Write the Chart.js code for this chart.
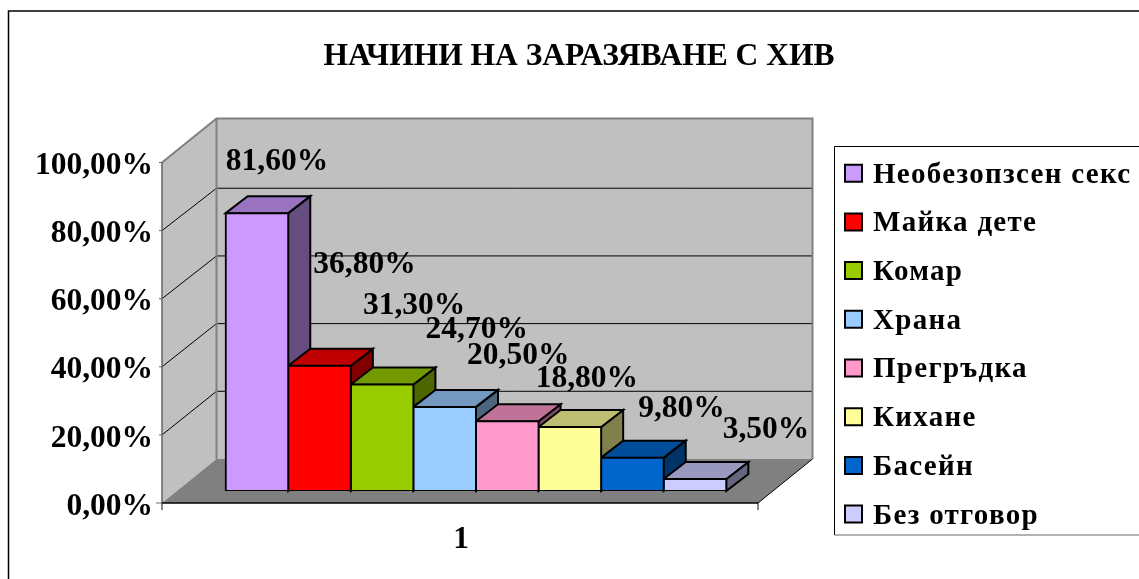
<!DOCTYPE html>
<html><head><meta charset="utf-8">
<style>html,body{margin:0;padding:0;background:#fff}canvas{display:block}</style>
<script src="https://cdn.jsdelivr.net/npm/chart.js@4/dist/chart.umd.min.js"></script>
</head><body><canvas id="c" width="1139" height="579"></canvas>
<script>
const categories = ['1'];
const seriesNames = ['Необезопзсен секс','Майка дете','Комар','Храна','Прегръдка','Кихане','Басейн','Без отговор'];
const seriesValues = [81.6,36.8,31.3,24.7,20.5,18.8,9.8,3.5];
const seriesColors = ['#CC99FF','#FF0000','#99CC00','#99CCFF','#FF99CC','#FFFF99','#0066CC','#CCCCFF'];
const topColors = ['#9A73C0','#BF0000','#739900','#7399C0','#BF7399','#BFBF73','#004D99','#9999BF'];
const sideColors = ['#664D80','#800000','#4D6600','#4D6680','#804D66','#80804D','#003366','#666680'];
const labelNudges = [[20,-51],[45,-101],[32,-79],[32,-77],[11,-65],[17,-48],[49,-49],[71,-49]];
const fmt = v => v.toFixed(2).replace('.',',') + '%';
const SERIF = '"Liberation Serif","Times New Roman",serif';
const BAR_D = [22,-17], FRONT = [-16,12], BACK = [38.5,-32];
const WALL_K = 0.994;

const walls = {
  id:'walls',
  beforeLayout(chart){
    const lg = chart.legend;
    if(!lg._wrapped){
      const f = lg.fit;
      lg.fit = function(){ this.maxHeight = 1000; f.call(this); this.width = 365; };
      const d = lg.draw;
      lg.draw = function(){
        const c=this.ctx, ft=c.fillText;
        c.letterSpacing='1.3px';
        c.fillText=function(t,x,y,m){ ft.call(c,t,x-3.5,y+2); };
        d.call(this);
        delete c.fillText;
        c.letterSpacing='0px';
      };
      lg._wrapped = true;
    }
  },
  afterLayout(chart){
    const lg = chart.legend;
    lg.left = 845 - 19.7; lg.top = 139; lg.right = 1139; lg.bottom = 900;
  },
  beforeDraw(chart){
    const {ctx, scales:{x,y}} = chart;
    ctx.save();
    ctx.fillStyle='#fff'; ctx.fillRect(0,0,1139,579);
    // outer frame
    ctx.strokeStyle='#000'; ctx.lineWidth=1.5;
    ctx.beginPath(); ctx.moveTo(8.5,579); ctx.lineTo(8.5,11); ctx.lineTo(1139,11); ctx.stroke();
    // legend frame
    ctx.lineWidth=1; ctx.strokeStyle='#000';
    ctx.beginPath(); ctx.moveTo(1139,146.5); ctx.lineTo(834.5,146.5); ctx.lineTo(834.5,535); ctx.stroke();
    ctx.strokeStyle='#666'; ctx.beginPath(); ctx.moveTo(834.5,535); ctx.lineTo(1139,535); ctx.stroke();

    const y0=y.getPixelForValue(0), y1=y.getPixelForValue(100), L=x.left, R=x.right;
    const fl=L+FRONT[0], fr=R+FRONT[0], bl=L+BACK[0], br=R+BACK[0];
    const fb=y0+FRONT[1], ft=y1+FRONT[1], bb=y0+BACK[1], bt=y1+BACK[1];
    ctx.fillStyle='#C0C0C0';
    ctx.fillRect(bl,bt,br-bl,bb-bt);
    ctx.beginPath(); ctx.moveTo(fl,ft); ctx.lineTo(bl,bt); ctx.lineTo(bl,bb); ctx.lineTo(fl,fb); ctx.closePath(); ctx.fill();
    ctx.fillStyle='#808080';
    ctx.beginPath(); ctx.moveTo(fl,fb); ctx.lineTo(bl,bb); ctx.lineTo(br,bb); ctx.lineTo(fr,fb); ctx.closePath(); ctx.fill();
    // grid
    ctx.strokeStyle='#000'; ctx.lineWidth=1;
    y.ticks.forEach(t=>{
      if(t.value===0||t.value===100) return;
      const p=y.getPixelForValue(t.value), back=bb-(y0-p)*WALL_K;
      ctx.beginPath(); ctx.moveTo(fl,p+FRONT[1]); ctx.lineTo(bl,back); ctx.lineTo(br,back); ctx.stroke();
    });
    // wall edges
    ctx.strokeStyle='#808080'; ctx.lineWidth=2;
    ctx.beginPath(); ctx.moveTo(fl,ft); ctx.lineTo(bl,bt); ctx.lineTo(br,bt); ctx.lineTo(br,bb); ctx.moveTo(bl,bt); ctx.lineTo(bl,bb); ctx.stroke();
    // axes
    ctx.strokeStyle='#000'; ctx.lineWidth=1;
    ctx.beginPath(); ctx.moveTo(fr,fb); ctx.lineTo(br,bb); ctx.stroke();
    ctx.strokeStyle='#666'; ctx.lineWidth=1.5;
    ctx.beginPath(); ctx.moveTo(fl,ft); ctx.lineTo(fl,fb+7); ctx.moveTo(fr,fb); ctx.lineTo(fr,fb+7); ctx.stroke();
    y.ticks.forEach(t=>{
      const p=y.getPixelForValue(t.value)+FRONT[1];
      ctx.lineWidth=1;
      ctx.beginPath(); ctx.moveTo(fl-(t.value===0?6:3),p); ctx.lineTo(fl,p); ctx.stroke();
    });
    ctx.strokeStyle='#000'; ctx.lineWidth=1.5;
    ctx.beginPath(); ctx.moveTo(fl,fb); ctx.lineTo(fr,fb); ctx.stroke();
    ctx.restore();
  },
  beforeDatasetsDraw(chart){
    const ctx=chart.ctx;
    ctx.save();
    ctx.strokeStyle='#000'; ctx.lineWidth=2; ctx.lineJoin='miter';
    seriesValues.forEach((v,i)=>{
      const b=chart.getDatasetMeta(i).data[0];
      const l=b.x-b.width/2, r=b.x+b.width/2, t=b.y, s=b.base, [dx,dy]=BAR_D;
      ctx.fillStyle=sideColors[i];
      ctx.beginPath(); ctx.moveTo(r,t); ctx.lineTo(r+dx,t+dy); ctx.lineTo(r+dx,s+dy); ctx.lineTo(r,s); ctx.closePath(); ctx.fill(); ctx.stroke();
      ctx.fillStyle=topColors[i];
      ctx.beginPath(); ctx.moveTo(l,t); ctx.lineTo(l+dx,t+dy); ctx.lineTo(r+dx,t+dy); ctx.lineTo(r,t); ctx.closePath(); ctx.fill(); ctx.stroke();
    });
    ctx.restore();
  },
  afterDatasetsDraw(chart){
    const ctx=chart.ctx;
    ctx.save();
    ctx.fillStyle='#000'; ctx.font='bold 31.5px '+SERIF; ctx.textAlign='center'; ctx.textBaseline='middle';
    seriesValues.forEach((v,i)=>{
      const b=chart.getDatasetMeta(i).data[0];
      ctx.fillText(fmt(v), b.x+labelNudges[i][0], b.y+labelNudges[i][1]);
    });
    ctx.restore();
  }
};

new Chart(document.getElementById('c'),{
  type:'bar',
  data:{
    labels:categories,
    datasets:seriesNames.map((n,i)=>({
      label:n,data:[seriesValues[i]],
      backgroundColor:seriesColors[i],borderColor:'#000',borderWidth:2,inflateAmount:1,borderSkipped:false,
      categoryPercentage:0.84,barPercentage:1
    }))
  },
  options:{
    responsive:false,animation:false,devicePixelRatio:1,
    layout:{padding:{left:19,right:0,top:0,bottom:0}},
    plugins:{
      title:{display:true,text:'НАЧИНИ НА ЗАРАЗЯВАНЕ С ХИВ',color:'#000',align:'center',
        font:{family:SERIF,size:31.5,weight:'bold',lineHeight:1.2},padding:{top:38,bottom:74.7}},
      legend:{display:true,position:'right',align:'start',
        labels:{color:'#000',boxWidth:17,boxHeight:17,padding:19.7,font:{family:SERIF,size:29,weight:'bold'}}},
      tooltip:{enabled:false}
    },
    scales:{
      x:{afterFit(s){s.height=88;},grid:{display:false},border:{display:false},
        ticks:{color:'#000',padding:22,labelOffset:-15,maxRotation:0,font:{family:SERIF,size:31.5,weight:'bold'}}},
      y:{min:0,max:100,afterFit(s){s.width=159;},grid:{display:false},border:{display:false},
        ticks:{stepSize:20,color:'#000',padding:17,labelOffset:15.5,callback:v=>fmt(v),font:{family:SERIF,size:31.5,weight:'bold'}}}
    }
  },
  plugins:[walls]
});
</script></body></html>
